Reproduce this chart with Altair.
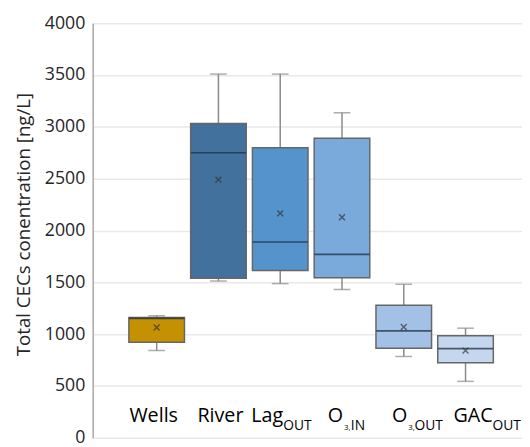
import altair as alt
import pandas as pd

# ---- data ----
cats = ["Wells", "River", "Lag_OUT", "O3,IN", "O3,OUT", "GAC_OUT"]
mins = [841, 1512, 1487, 1430, 784, 544]
q1s = [921, 1538, 1614, 1544, 864, 724]
meds = [1152, 2750, 1889, 1769, 1031, 860]
q3s = [1161, 3031, 2797, 2889, 1278, 984]
maxs = [1177, 3509, 3509, 3136, 1481, 1057]
means = [1063, 2490, 2165, 2127, 1069, 841]
colors = ["#C49102", "#41719C", "#5593CC", "#7AA9DC", "#A3C0E6", "#C5D6EF"]

lbl_main = ["Wells", "River", "Lag", "O", "O", "GAC"]
lbl_small = ["", "", "", "3,", "3,", ""]
lbl_sub = ["", "", "OUT", "IN", "OUT", "OUT"]
y_ticks = [0, 500, 1000, 1500, 2000, 2500, 3000, 3500, 4000]

df = pd.DataFrame({"cat": cats, "min": mins, "q1": q1s, "med": meds,
                   "q3": q3s, "max": maxs, "mean": means})

FONT = "Open Sans"
TXT = "#262626"

x = alt.X("cat:N", sort=cats, axis=None,
          scale=alt.Scale(domain=cats, paddingInner=0.1, paddingOuter=0.525, align=0.558))
yscale = alt.Scale(domain=[0, 4000], nice=False)
color = alt.Color("cat:N", scale=alt.Scale(domain=cats, range=colors), legend=None)

base = alt.Chart(df)

whisk = base.mark_rule(color="#8A8A8A", strokeWidth=1.5).encode(
    x=x,
    y=alt.Y("min:Q", scale=yscale,
            axis=alt.Axis(values=y_ticks, format="d", title="Total CECs conentration [ng/L]",
                          labelFont=FONT, labelFontSize=18, labelColor=TXT,
                          labelPadding=8, ticks=False, domainColor="#A6A6A6",
                          domainWidth=1.5, gridColor="#E9E9E9", gridWidth=1.5,
                          titleFont=FONT, titleFontSize=19, titleFontWeight="normal",
                          titleColor=TXT, titleAngle=270, titleAlign="center",
                          titleBaseline="middle", titleX=-70, titleY=204)),
    y2="max:Q",
)
cap_lo = base.mark_tick(color="#8A8A8A", thickness=1.5, size=17).encode(
    x=x, y=alt.Y("min:Q", scale=yscale))
cap_hi = base.mark_tick(color="#8A8A8A", thickness=1.5, size=17).encode(
    x=x, y=alt.Y("max:Q", scale=yscale))
box = base.mark_bar(stroke="#666666", strokeWidth=1.5).encode(
    x=x, y=alt.Y("q1:Q", scale=yscale), y2="q3:Q", color=color)
median = base.mark_tick(color="#1F2F40", opacity=0.75, thickness=1.6, size=56).encode(
    x=x, y=alt.Y("med:Q", scale=yscale))
mean = base.mark_point(shape="M-1,-1L1,1M-1,1L1,-1", size=36, filled=False,
                       color="#333333", strokeWidth=1.4).encode(
    x=x, y=alt.Y("mean:Q", scale=yscale))

layers = [whisk, cap_lo, cap_hi, box, median, mean]

# category labels with subscripts (offsets in px relative to band centre)
main_dx = {"Wells": -3, "River": 2, "Lag_OUT": 3, "O3,IN": 1, "O3,OUT": 3.5, "GAC_OUT": 27.5}
small_dx = {"O3,IN": 2, "O3,OUT": 4.5}
sub_dx = {"Lag_OUT": 3, "O3,IN": 9, "O3,OUT": 11, "GAC_OUT": 27.5}
MAIN_Y = 155
SUB_Y = 78

for i, c in enumerate(cats):
    row = pd.DataFrame({"cat": [c], "main": [lbl_main[i]], "small": [lbl_small[i]],
                        "sub": [lbl_sub[i]], "ym": [MAIN_Y], "ys": [SUB_Y]})
    ch = alt.Chart(row)
    has_sub = lbl_sub[i] != ""
    layers.append(ch.mark_text(font=FONT, fontSize=20, color="#000000",
                               align="right" if has_sub else "center",
                               baseline="alphabetic", dx=main_dx[c]).encode(
        x=x, y=alt.Y("ym:Q", scale=yscale), text="main:N"))
    if lbl_small[i]:
        layers.append(ch.mark_text(font=FONT, fontSize=8, color="#000000", align="left",
                                   baseline="alphabetic", dx=small_dx[c]).encode(
            x=x, y=alt.Y("ys:Q", scale=yscale), text="small:N"))
    if has_sub:
        layers.append(ch.mark_text(font=FONT, fontSize=14, color="#000000", align="left",
                                   baseline="alphabetic", dx=sub_dx[c]).encode(
            x=x, y=alt.Y("ys:Q", scale=yscale), text="sub:N"))

chart = alt.layer(*layers).properties(
    width=436, height=421,
    autosize=alt.AutoSizeParams(type="none"),
    padding={"left": 86, "top": 12, "right": 0, "bottom": 6},
).configure_view(stroke=None)

chart.save("out.html", embed_options={"renderer": "svg", "actions": False})
